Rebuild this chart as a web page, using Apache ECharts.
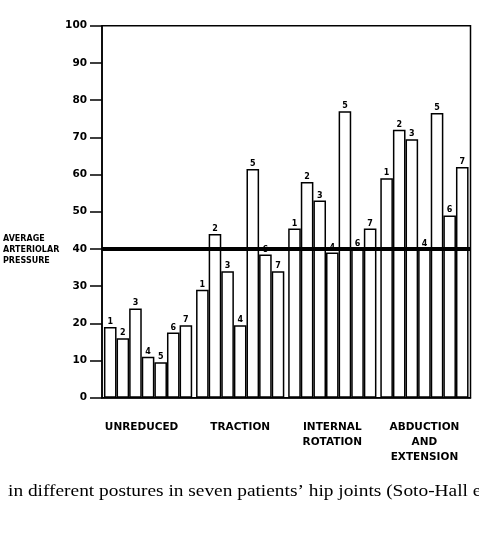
<!DOCTYPE html>
<html>
<head>
<meta charset="utf-8">
<script src="https://cdn.jsdelivr.net/npm/echarts@6/dist/echarts.min.js"></script>
<style>
  html, body { margin: 0; padding: 0; background: #fff; }
  #chart { width: 479px; height: 536px; }
</style>
</head>
<body>
<div id="chart"></div>
<script>
// postures on the x axis
const postures = ['UNREDUCED', 'TRACTION', 'INTERNAL\nROTATION', 'ABDUCTION\nAND\nEXTENSION'];
// pressure of patients 1..7 in each posture
const unreduced = [19, 16, 24, 11, 9.5, 17.5, 19.5];
const traction = [29, 44, 34, 19.5, 61.5, 38.5, 34];
const internalRotation = [45.5, 58, 53, 39, 77, 40, 45.5];
const abductionExtension = [59, 72, 69.5, 40, 76.5, 49, 62];
const patients = ['1', '2', '3', '4', '5', '6', '7'];
const yTicks = [0, 10, 20, 30, 40, 50, 60, 70, 80, 90, 100];
const referenceLevel = 40;

const font = '"DejaVu Sans", sans-serif';

const series = patients.map(function (p, i) {
  const s = {
    name: 'Patient ' + p,
    type: 'bar',
    barGap: '0%',
    barCategoryGap: '4.2%',
    data: [unreduced[i], traction[i], internalRotation[i], abductionExtension[i]],
    itemStyle: { color: '#fff', borderColor: '#000', borderWidth: 1.5 },
    label: {
      show: true,
      position: 'top',
      distance: 1,
      formatter: p,
      color: '#000',
      fontFamily: font,
      fontWeight: 'bold',
      fontSize: 8
    }
  };
  if (i === patients.length - 1) {
    s.markLine = {
      silent: true,
      symbol: 'none',
      label: { show: false },
      lineStyle: { color: '#000', width: 4, type: 'solid' },
      data: [{ yAxis: referenceLevel }]
    };
  }
  return s;
});

// first label sits a little left of its group in the original
const xLabels = postures.map(function (name, i) {
  return i === 0 ? { value: name, textStyle: { padding: [0, 13, 0, 0] } } : name;
});

const chart = echarts.init(document.getElementById('chart'));
chart.setOption({
  animation: false,
  backgroundColor: '#fff',
  grid: {
    left: 102, right: 8.5, top: 25.7, bottom: 138.3,
    show: true, borderColor: '#000', borderWidth: 1.5
  },
  xAxis: {
    type: 'category',
    data: xLabels,
    axisLine: { lineStyle: { color: '#000', width: 1.5 } },
    axisTick: { show: false },
    axisLabel: {
      color: '#000', fontFamily: font, fontWeight: 'bold', fontSize: 10.5,
      lineHeight: 15, margin: 22, interval: 0
    }
  },
  yAxis: {
    type: 'value',
    min: yTicks[0], max: yTicks[yTicks.length - 1], interval: 10,
    splitLine: { show: false },
    axisLine: { show: true, lineStyle: { color: '#000', width: 1.5 } },
    axisTick: { show: true, length: 12, lineStyle: { color: '#000', width: 1.5 } },
    axisLabel: {
      color: '#000', fontFamily: font, fontWeight: 'bold', fontSize: 10.5, margin: 15
    }
  },
  graphic: [
    {
      type: 'text', left: 3, top: 234,
      style: {
        text: 'AVERAGE\nARTERIOLAR\nPRESSURE',
        fill: '#000', font: 'bold 8px "DejaVu Sans", sans-serif', lineHeight: 10.7
      }
    },
    {
      type: 'text', x: 8, y: 484, scaleX: 1.21,
      style: {
        text: 'in different postures in seven patients\u2019 hip joints (Soto-Hall et al.)',
        fill: '#000', font: '16px "Liberation Serif", serif'
      }
    }
  ],
  series: series
});
</script>
</body>
</html>
